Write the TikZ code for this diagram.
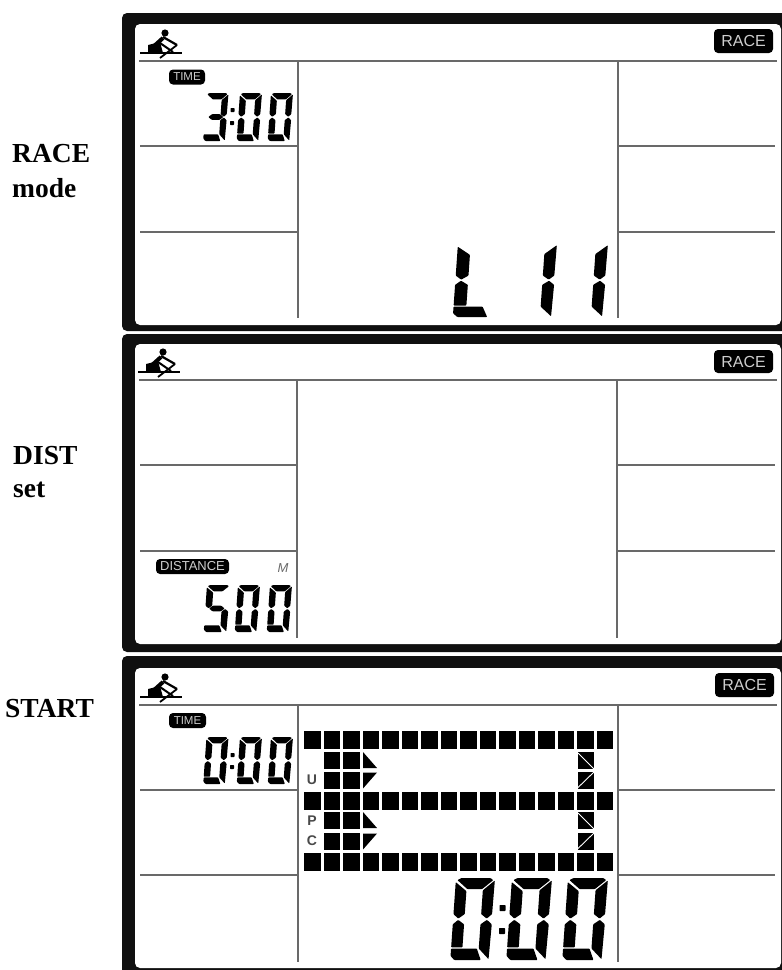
\documentclass[tikz,border=0pt]{standalone}
\usepackage{fontspec}
\setmainfont{Liberation Serif}
\setsansfont{Liberation Sans}
\usetikzlibrary{positioning}
\definecolor{lcdblack}{RGB}{16, 16, 16}
\definecolor{lcdgrey}{RGB}{105, 105, 105}
\definecolor{lcdtext}{RGB}{205, 205, 205}
\tikzset{
    lcdframe/.style={fill=lcdblack, rounded corners=5pt},
    lcdglass/.style={fill=white, rounded corners=5pt},
    lcdline/.style={draw=lcdgrey, line width=1.6pt},
    lcdseg/.style={fill=black, rounded corners=0.7pt},
    lcdtag/.style={fill=black, rounded corners=4pt, text=lcdtext, inner sep=0pt, font=\sffamily},
    sidelabel/.style={anchor=base west, inner sep=0pt, font=\fontsize{27.5}{30}\selectfont\bfseries},
    dotcell/.style={fill=black},
    sega/.pic={\fill[lcdseg] (4,5) -- (14,0) -- (88,0) -- (96,5) -- (69,27) -- (31,27) -- cycle;},
    segb/.pic={\fill[lcdseg] (100,6) -- (99,88) -- (86,99) -- (71,88) -- (71,30) -- cycle;},
    segc/.pic={\fill[lcdseg] (87,102) -- (100,113) -- (98,198) -- (71,172) -- (71,113) -- cycle;},
    segd/.pic={\fill[lcdseg] (0,172) -- (66,172) -- (78,200) -- (10,200) -- (0,190) -- cycle;},
    sege/.pic={\fill[lcdseg] (13,102) -- (29,113) -- (29,169) -- (0,169) -- (0,113) -- cycle;},
    segf/.pic={\fill[lcdseg] (0,10) -- (29,32) -- (29,88) -- (13,99) -- (0,88) -- cycle;},
    segg/.pic={\fill[lcdseg] (16,100) -- (32,88) -- (68,88) -- (84,100) -- (68,112) -- (32,112) -- cycle;},
    rower/.pic={
        \fill (25,-20) circle (3.6);
        \fill (8,0) -- (8,-8) -- (20,-11) -- (23,0) -- cycle;
        \draw[line width=4pt] (23,-15) -- (13,-6);
        \draw[line width=2.2pt] (23,-16) -- (37,-8);
        \draw[line width=1.8pt] (37,-8) -- (20,5);
        \draw[line width=2pt] (20,-10) -- (33,-1);
        \draw[line width=2pt] (0,0) -- (42,0);
    }
}
\newcommand{\lcddigit}[5]{
    \begin{scope}[shift={(#1,#2)}, xslant=0.07, xscale=#3/100, yscale=#4/200]
        \foreach \seg in {#5} {\pic[transform shape] {seg\seg};}
    \end{scope}
}
\newcommand{\lcdcolon}[4]{
    \fill[lcdseg] (#1,#2) rectangle ++(#4,#4);
    \fill[lcdseg] (#1-0.5,#3) rectangle ++(#4,#4);
}

\begin{document}
\begin{tikzpicture}[x=1pt, y=-1pt]
    \useasboundingbox (0,0) rectangle (782,970);
    \fill[white] (0,0) rectangle (782,970);

    \fill[lcdframe] (122,13) rectangle (790,331);
    \fill[lcdframe] (122,334) rectangle (790,652);
    \fill[lcdframe] (122,656) rectangle (790,985);
    \fill[lcdglass] (135,24) rectangle (781,325);
    \fill[lcdglass] (135,344) rectangle (781,644);
    \fill[lcdglass] (135,668) rectangle (781,968);

    \foreach \hy/\vx/\ya/\yb/\ve in {61/298/146/232/318, 380/297/465/551/638, 705/298/790/875/962} {
        \draw[lcdline] (139,\hy) -- (777,\hy);
        \draw[lcdline] (\vx,\hy) -- (\vx,\ve);
        \draw[lcdline] (\vx+320,\hy) -- (\vx+320,\ve);
        \foreach \ly in {\ya,\yb} {
            \draw[lcdline] (140,\ly) -- (\vx,\ly);
            \draw[lcdline] (\vx+320,\ly) -- (775,\ly);
        }
    }

    \pic at (140,53) {rower};
    \pic at (138,372) {rower};
    \pic at (140,697) {rower};

    \node[lcdtag, minimum width=59pt, minimum height=24pt, font=\sffamily\fontsize{16}{16}\selectfont] (racetaga) at (743.5,41) {RACE};
    \node[lcdtag, minimum width=59pt, minimum height=23pt, font=\sffamily\fontsize{16}{16}\selectfont] (racetagb) at (743.5,361.5) {RACE};
    \node[lcdtag, minimum width=59pt, minimum height=24pt, font=\sffamily\fontsize{16}{16}\selectfont] (racetagc) at (744.5,685) {RACE};
    \node[lcdtag, minimum width=36pt, minimum height=15pt, font=\sffamily\fontsize{11.5}{12}\selectfont] (timetaga) at (187,77) {TIME};
    \node[lcdtag, minimum width=37pt, minimum height=15pt, font=\sffamily\fontsize{11.5}{12}\selectfont] (timetagc) at (187.5,720.5) {TIME};
    \node[lcdtag, minimum width=73pt, minimum height=15pt, font=\sffamily\fontsize{13}{13}\selectfont] (disttag) at (192.5,566.5) {DISTANCE};
    \node[inner sep=0pt, text=lcdgrey, font=\sffamily\itshape\fontsize{13}{13}\selectfont] (distunit) at (283,568) {M};

    \lcddigit{206.5}{93}{22}{48}{a,b,c,d,g}
    \lcdcolon{230.5}{108}{121}{4}
    \lcddigit{240}{93}{22}{48}{a,b,c,d,e,f}
    \lcddigit{271}{93}{22}{48}{a,b,c,d,e,f}

    \lcddigit{458}{243}{44}{74}{e,f,d}
    \lcddigit{516}{243}{41}{74}{b,c}
    \lcddigit{567}{243}{41}{74}{b,c}

    \lcddigit{207}{585}{23}{47}{a,c,d,f,g}
    \lcddigit{238}{585}{22}{47}{a,b,c,d,e,f}
    \lcddigit{270}{585}{22}{47}{a,b,c,d,e,f}

    \lcddigit{206.5}{737}{22}{47}{a,b,c,d,e,f}
    \lcdcolon{230.5}{753}{765}{4}
    \lcddigit{240}{737}{22}{47}{a,b,c,d,e,f}
    \lcddigit{271}{737}{22}{47}{a,b,c,d,e,f}

    \lcddigit{456}{878}{39}{82}{a,b,c,d,e,f}
    \lcdcolon{499.5}{905}{928}{6}
    \lcddigit{512}{878}{40}{82}{a,b,c,d,e,f}
    \lcddigit{568}{878}{40}{82}{a,b,c,d,e,f}

    \foreach \rowy in {731,792,853} {
        \foreach \col in {0,...,15} {
            \fill[dotcell] (304+19.53*\col,\rowy) rectangle ++(16.5,17.5);
        }
    }
    \foreach \rowy/\rowz in {752/772, 812/833} {
        \foreach \col in {1,2} {
            \fill[dotcell] (304+19.53*\col,\rowy) rectangle ++(16.5,16.5);
            \fill[dotcell] (304+19.53*\col,\rowz) rectangle ++(16.5,16.5);
        }
        \fill[dotcell] (363,\rowy) -- (377,\rowy+16) -- (363,\rowy+16) -- cycle;
        \fill[dotcell] (363,\rowz+16.5) -- (377,\rowz+0.5) -- (363,\rowz+0.5) -- cycle;
        \fill[dotcell] (577.5,\rowy) rectangle ++(16.5,16.5);
        \fill[dotcell] (577.5,\rowz) rectangle ++(16.5,16.5);
        \draw[white, line width=0.9pt] (578,\rowy+1) -- (595,\rowy+18);
        \draw[white, line width=0.9pt] (577,\rowz+16.5) -- (595,\rowz-1);
    }
    \node[inner sep=0pt, text=lcdgrey!70!black, font=\sffamily\bfseries\fontsize{14}{14}\selectfont] (letteru) at (312,780) {U};
    \node[inner sep=0pt, text=lcdgrey!70!black, font=\sffamily\bfseries\fontsize{14}{14}\selectfont] (letterp) at (312,821) {P};
    \node[inner sep=0pt, text=lcdgrey!70!black, font=\sffamily\bfseries\fontsize{14}{14}\selectfont] (letterc) at (312,841) {C};

    \node[sidelabel] (racelabel) at (12,162) {RACE};
    \node[sidelabel] (modelabel) at (12,197) {mode};
    \node[sidelabel] (distlabel) at (13,464) {DIST};
    \node[sidelabel] (setlabel) at (13,497) {set};
    \node[sidelabel] (startlabel) at (5,717) {START};
\end{tikzpicture}
\end{document}
